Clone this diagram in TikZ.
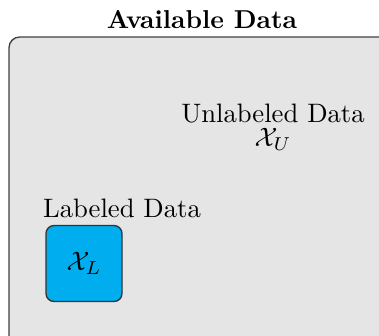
\documentclass[tikz,border=0pt]{standalone}
\usepackage{amsmath}
\begin{document}
\begin{tikzpicture}[x=0.375pt,y=-0.375pt,
  bigbox/.style={draw=black!75,fill=black!10,rounded corners=4pt,line width=0.5pt},
  setbox/.style={draw=black!80,fill=cyan,rounded corners=3pt,line width=0.5pt,minimum width=28.5pt,minimum height=28.5pt,inner sep=0pt},
  lbl/.style={inner sep=0pt,font=\normalsize}]
\useasboundingbox (0,0) rectangle (379,335);
\begin{scope}
\clip (0,0) rectangle (379,335);
\draw[bigbox] (9,37) rectangle (420,380);
\end{scope}
\node[lbl,font=\bfseries,scale=0.97] (title) at (202,20) {Available Data};
\node[lbl,anchor=base] (ulab) at (273,122) {Unlabeled Data};
\node[lbl] (xu) at (273,139) {$\mathcal{X}_U$};
\node[lbl,anchor=base] (llab) at (122,217) {Labeled Data};
\node[setbox] (xl) at (84,263.5) {$\mathcal{X}_L$};
\end{tikzpicture}
\end{document}
